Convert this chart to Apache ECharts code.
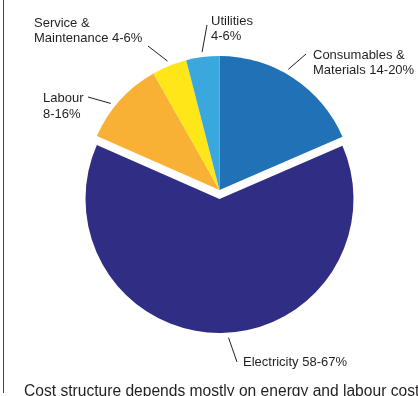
<!DOCTYPE html>
<html>
<head>
<meta charset="utf-8">
<script src="https://cdn.jsdelivr.net/npm/echarts@6/dist/echarts.min.js"></script>
<style>
  html, body { margin: 0; padding: 0; background: #fff; }
  #chart { width: 418px; height: 396px; }
</style>
</head>
<body>
<div id="chart"></div>
<script>
// slice data, clockwise from 12 o'clock
const categories = ['Consumables & Materials', 'Electricity', 'Labour', 'Service & Maintenance', 'Utilities'];
const shares = [18.5, 63.1, 10.2, 4.2, 4.0];
const labels = ['Consumables &\nMaterials 14-20%', 'Electricity 58-67%', 'Labour\n8-16%', 'Service &\nMaintenance 4-6%', 'Utilities\n4-6%'];
const caption = 'Cost structure depends mostly on energy and labour cost';
const exploded = 'Electricity';

const colors = ['#2171b6', '#2f2e84', '#f8b134', '#ffe619', '#3aa8df'];

// label placement: [text x, text middle y, leader end x, leader end y, leader start nudge (deg)]
const labelPos = [
  [313, 63, 306, 54, -3.6],
  [243, 362, 237, 362, -3.9],
  [43, 106.5, 88, 97, -3.6],
  [34, 31, 148, 46, 0],
  [211, 29, 207, 25, 0]
];

const pieCenter = [219.5, 190];
const pieRadius = 134;
const explodeOffset = 9; // slice sits almost straight down

const chart = echarts.init(document.getElementById('chart'));

// leader line starts a few px off the slice edge, near the slice middle
function linePoints(params, center) {
  const pos = labelPos[params.dataIndex];
  const pts = params.labelLinePoints;
  if (!pts) return null;
  const a = pos[4] * Math.PI / 180;
  const rx = pts[0][0] - center[0];
  const ry = pts[0][1] - center[1];
  const x = center[0] + rx * Math.cos(a) - ry * Math.sin(a);
  const y = center[1] + rx * Math.sin(a) + ry * Math.cos(a);
  const len = Math.sqrt((x - center[0]) ** 2 + (y - center[1]) ** 2) || 1;
  const start = [x + (x - center[0]) / len * 5, y + (y - center[1]) / len * 5];
  return [start, [pos[2], pos[3]]];
}

function makeData(showExploded) {
  return categories.map((name, i) => {
    const visible = (name === exploded) === showExploded;
    return {
      name,
      value: shares[i],
      itemStyle: { color: visible ? colors[i] : 'rgba(0,0,0,0)' },
      label: { show: visible },
      labelLine: { show: visible }
    };
  });
}

const textFont = 'Liberation Sans, Arial, sans-serif';

function pieSeries(center, showExploded) {
  return {
    type: 'pie',
    center,
    radius: pieRadius,
    startAngle: 90,
    clockwise: true,
    avoidLabelOverlap: false,
    silent: true,
    emphasis: { disabled: true },
    itemStyle: { borderWidth: 0 },
    label: {
      show: true,
      position: 'outside',
      formatter: (p) => labels[p.dataIndex],
      fontFamily: textFont,
      fontSize: 13,
      lineHeight: 15.5,
      color: '#231f20'
    },
    labelLine: {
      show: true,
      length: 8,
      length2: 0,
      lineStyle: { color: '#231f20', width: 1 }
    },
    labelLayout: (params) => {
      const pos = labelPos[params.dataIndex];
      const out = { x: pos[0], y: pos[1], align: 'left', verticalAlign: 'middle' };
      const pts = linePoints(params, center);
      if (pts) out.labelLinePoints = pts;
      return out;
    },
    data: makeData(showExploded)
  };
}

const option = {
  backgroundColor: '#fff',
  animation: false,
  title: {
    text: caption,
    left: 19,
    top: 379,
    textStyle: {
      fontFamily: textFont,
      fontSize: 15.6,
      fontWeight: 'normal',
      color: '#231f20'
    }
  },
  graphic: [{
    type: 'line',
    shape: { x1: 3.5, y1: 0, x2: 3.5, y2: 393 },
    style: { stroke: '#444', lineWidth: 1 }
  }],
  series: [
    pieSeries(pieCenter, false),
    pieSeries([pieCenter[0], pieCenter[1] + explodeOffset], true)
  ]
};

chart.setOption(option);
</script>
</body>
</html>
